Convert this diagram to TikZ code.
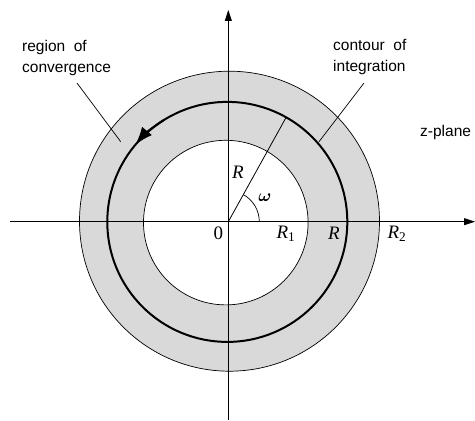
\documentclass[tikz,border=0pt]{standalone}
\usepackage{amsmath}
\usepackage{fontspec}
\setmainfont{Liberation Sans}
\newfontfamily\seriffont{Liberation Serif}
\usetikzlibrary{arrows.meta}
\begin{document}
\begin{tikzpicture}[x=1pt,y=1pt,
  axis/.style={line width=0.8pt,-{Triangle[length=11pt,width=7pt]}},
  thinring/.style={line width=0.7pt},
  contourline/.style={line width=2pt},
  leader/.style={line width=0.7pt},
  sanslabel/.style={font=\fontsize{15.5}{21}\selectfont, align=left, inner sep=0pt, anchor=west},
  mathlabel/.style={font=\fontsize{19}{20}\selectfont\seriffont\itshape, inner sep=0pt}
]
\useasboundingbox (0,0) rectangle (475,421);
\fill[white] (0,0) rectangle (475,421);
\coordinate (O) at (228.3,199.3);
\coordinate (Cout) at (229.5,199.8);
\coordinate (Cin) at (225.8,198.4);
\coordinate (Cc) at (227.3,199.1);
% shaded annulus
\fill[gray!30, even odd rule] (Cout) circle (150) (Cin) circle (82.3);
\draw[thinring] (Cout) circle (150);
\draw[thinring] (Cin) circle (82.3);
\draw[contourline] (Cc) circle (120);
% arrow on contour
\draw[line width=2pt, -{Latex[length=18pt,width=13pt]}] ([shift={(122:120)}]Cc) arc (122:140:120);
% axes
\coordinate (xl) at (10,199.3);
\coordinate (xr) at (475,199.3);
\coordinate (yb) at (228.3,1);
\coordinate (yt) at (228.3,411);
\draw[axis] (xl) -- (xr);
\draw[axis] (yb) -- (yt);
% radius and angle
\coordinate (Rend) at ([shift={(61:118.6)}]O);
\draw[line width=0.8pt] (O) -- (Rend);
\draw[line width=0.7pt] ([shift={(0:31)}]O) arc (0:61:31);
% labels
\node[mathlabel] (zero) at (218.3,187.5) {\upshape 0};
\node[mathlabel] (r1) at (286,187.5) {R\textsubscript{\upshape 1}};
\node[mathlabel] (r) at (334,187.5) {R};
\node[mathlabel] (r2) at (397,187.5) {R\textsubscript{\upshape 2}};
\node[mathlabel] (rr) at (238,249) {R};
\node[font=\fontsize{18}{18}\selectfont, inner sep=0pt] (om) at (265,223) {$\boldsymbol{\omega}$};
\node[sanslabel] (roc) at (22,363.5) {region\ \ of\\convergence};
\node[sanslabel] (coi) at (333,363.5) {contour\ \ of\\integration};
\node[sanslabel] (zp) at (420,289) {z-plane};
% leaders
\coordinate (rocA) at (77,338);
\coordinate (rocB) at (120.7,279.3);
\coordinate (coiA) at (364,338);
\coordinate (coiB) at (319,279.3);
\draw[leader] (rocA) -- (rocB);
\draw[leader] (coiA) -- (coiB);
\end{tikzpicture}
\end{document}
